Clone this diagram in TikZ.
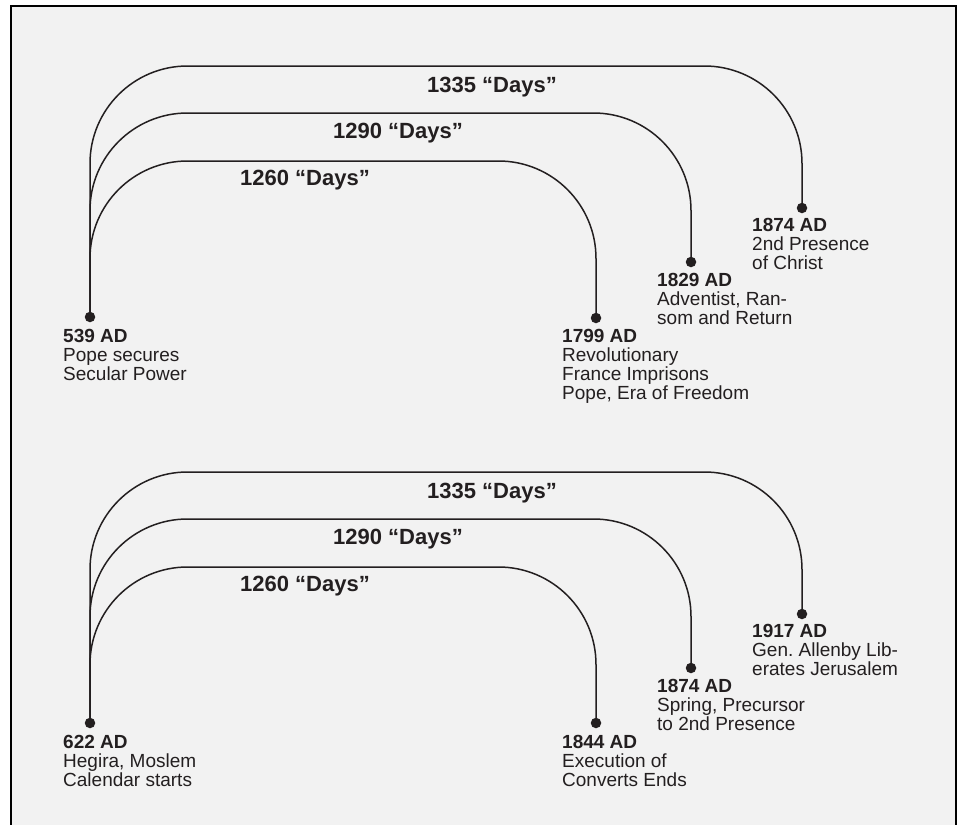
\documentclass[tikz,border=0pt]{standalone}
\usepackage{fontspec}
\setmainfont{Liberation Sans}
\definecolor{ink}{HTML}{231F20}
\definecolor{bg}{HTML}{F2F2F2}
\frenchspacing
\begin{document}
\begin{tikzpicture}[x=1pt,y=-1pt,
  arcline/.style={draw=ink, line width=1.5pt, rounded corners=97.5pt},
  dot/.style={circle, fill=ink, inner sep=0pt, minimum size=10.5pt},
  days/.style={anchor=base west, inner sep=0pt, text=ink, font=\fontsize{22}{22}\selectfont\bfseries},
  event/.style={anchor=north west, inner sep=0pt, align=left, text=ink, font=\fontsize{19}{19}\selectfont},
]
\useasboundingbox (0,0) rectangle (959,825);
\fill[white] (0,0) rectangle (959,825);
\fill[bg] (11,6) rectangle (956,825);
\draw[black, line width=2.5pt] (11,826) -- (11,6) -- (956,6) -- (956,826);

% ---------- top group ----------
\node[dot] (s1) at (90,317) {};
\node[dot] (e1) at (596,318) {};
\node[dot] (e2) at (691,262) {};
\node[dot] (e3) at (802,208) {};
\draw[arcline] (s1.center) -- (s1.center |- 0,161) -- (e1.center |- 0,161) -- (e1.center);
\draw[arcline] (s1.center) -- (s1.center |- 0,113) -- (e2.center |- 0,113) -- (e2.center);
\draw[arcline] (s1.center) -- (s1.center |- 0,66) -- (e3.center |- 0,66) -- (e3.center);
\node[days] (d1a) at (240,185) {1260 “Days”};
\node[days] (d1b) at (333,138) {1290 “Days”};
\node[days] (d1c) at (427,92) {1335 “Days”};
\node[event] (l1) at (63,329) {\textbf{539 AD}\\Pope secures\\Secular Power};
\node[event] (l2) at (562,329) {\textbf{1799 AD}\\Revolutionary\\France Imprisons\\Pope, Era of Freedom};
\node[event] (l3) at (657,273) {\textbf{1829 AD}\\Adventist, Ran-\\som and Return};
\node[event] (l4) at (752,218) {\textbf{1874 AD}\\2nd Presence\\of Christ};

% ---------- bottom group ----------
\node[dot] (s2) at (90,723) {};
\node[dot] (f1) at (596,723) {};
\node[dot] (f2) at (691,668) {};
\node[dot] (f3) at (802,614) {};
\draw[arcline] (s2.center) -- (s2.center |- 0,567) -- (f1.center |- 0,567) -- (f1.center);
\draw[arcline] (s2.center) -- (s2.center |- 0,519) -- (f2.center |- 0,519) -- (f2.center);
\draw[arcline] (s2.center) -- (s2.center |- 0,472) -- (f3.center |- 0,472) -- (f3.center);
\node[days] (d2a) at (240,591) {1260 “Days”};
\node[days] (d2b) at (333,544) {1290 “Days”};
\node[days] (d2c) at (427,498) {1335 “Days”};
\node[event] (m1) at (63,735) {\textbf{622 AD}\\Hegira, Moslem\\Calendar starts};
\node[event] (m2) at (562,735) {\textbf{1844 AD}\\Execution of\\Converts Ends};
\node[event] (m3) at (657,679) {\textbf{1874 AD}\\Spring, Precursor\\to 2nd Presence};
\node[event] (m4) at (752,624) {\textbf{1917 AD}\\Gen. Allenby Lib-\\erates Jerusalem};
\end{tikzpicture}
\end{document}
